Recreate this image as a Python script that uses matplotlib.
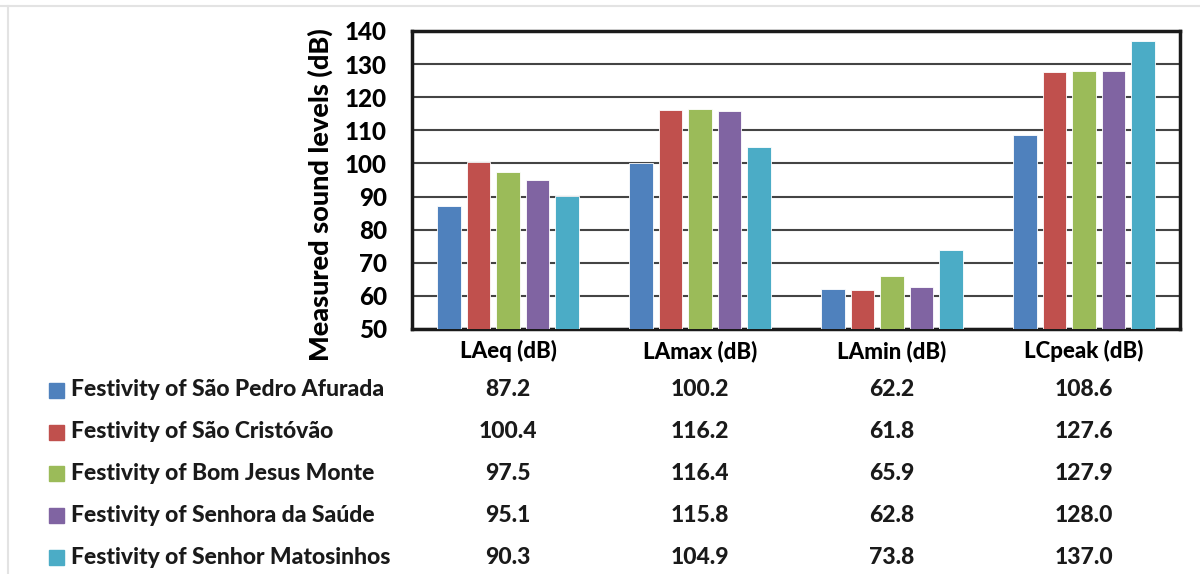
import numpy as np
import matplotlib.pyplot as plt
from matplotlib.patches import Rectangle
from matplotlib.lines import Line2D

# Data
metrics = ["LAeq (dB)", "LAmax (dB)", "LAmin (dB)", "LCpeak (dB)"]
festivities = [
    "Festivity of São Pedro Afurada",
    "Festivity of São Cristóvão",
    "Festivity of Bom Jesus Monte",
    "Festivity of Senhora da Saúde",
    "Festivity of Senhor Matosinhos",
]
sao_pedro = [87.2, 100.2, 62.2, 108.6]
sao_cristovao = [100.4, 116.2, 61.8, 127.6]
bom_jesus = [97.5, 116.4, 65.9, 127.9]
senhora_saude = [95.1, 115.8, 62.8, 128.0]
senhor_matosinhos = [90.3, 104.9, 73.8, 137.0]
series = [sao_pedro, sao_cristovao, bom_jesus, senhora_saude, senhor_matosinhos]
colors = ["#4F81BD", "#C0504D", "#9BBB59", "#8064A2", "#4BACC6"]

plt.rcParams["font.family"] = ["Lato", "DejaVu Sans"]
W = "black"

fig = plt.figure(figsize=(12, 5.74), dpi=100)
ax = fig.add_axes([412 / 1200, 1 - 329 / 574, 768 / 1200, 298 / 574])

x = np.arange(len(metrics))
pitch = 0.1536
width = 0.12
for i, (vals, c) in enumerate(zip(series, colors)):
    ax.bar(x + (i - 2) * pitch, np.array(vals) - 50, width, bottom=50,
           color=c, edgecolor="white", linewidth=0.6, zorder=3)

ax.set_xlim(-0.5, 3.5)
ax.set_ylim(50, 140)
ax.set_yticks(range(50, 141, 10))
ax.tick_params(axis="y", labelsize=17.5, length=0, pad=18)
for lb in ax.get_yticklabels():
    lb.set_fontweight(W)
ax.set_xticks(x)
ax.set_xticklabels(metrics, fontsize=16, fontweight=W)
ax.tick_params(axis="x", length=0, pad=8)
ax.grid(axis="y", color="#444444", linewidth=1.5, zorder=0)
for s in ax.spines.values():
    s.set_linewidth(2.5)
    s.set_color("#1a1a1a")
ax.set_ylabel("Measured sound levels (dB)", fontsize=19.5, fontweight=W)
ax.yaxis.set_label_coords(-0.103, 0.45)

# Data table below the chart
row_y = [390, 432, 473, 515, 557]
for name, vals, c, py in zip(festivities, series, colors, row_y):
    yf = 1 - py / 574
    fig.patches.append(Rectangle((49 / 1200, yf - 7.5 / 574), 15 / 1200, 15 / 574,
                                 transform=fig.transFigure, color=c))
    fig.text(71 / 1200, yf, name, fontsize=16.5, fontweight=W,
             ha="left", va="center", color="#1a1a1a")
    for xi, v in zip(x, vals):
        ax.text(xi, -(py - 329) / 298, f"{v:.1f}", transform=ax.get_xaxis_transform(),
                ha="center", va="center", fontsize=16.5, fontweight=W,
                color="#1a1a1a", clip_on=False)

# faint frame lines of the original screenshot
fig.add_artist(Line2D([0, 1], [1 - 6 / 574] * 2, color="#e3e3e3", linewidth=1.5))
fig.add_artist(Line2D([8 / 1200] * 2, [0, 1 - 6 / 574], color="#e3e3e3", linewidth=1.5))

fig.savefig("out.png", dpi=100)
